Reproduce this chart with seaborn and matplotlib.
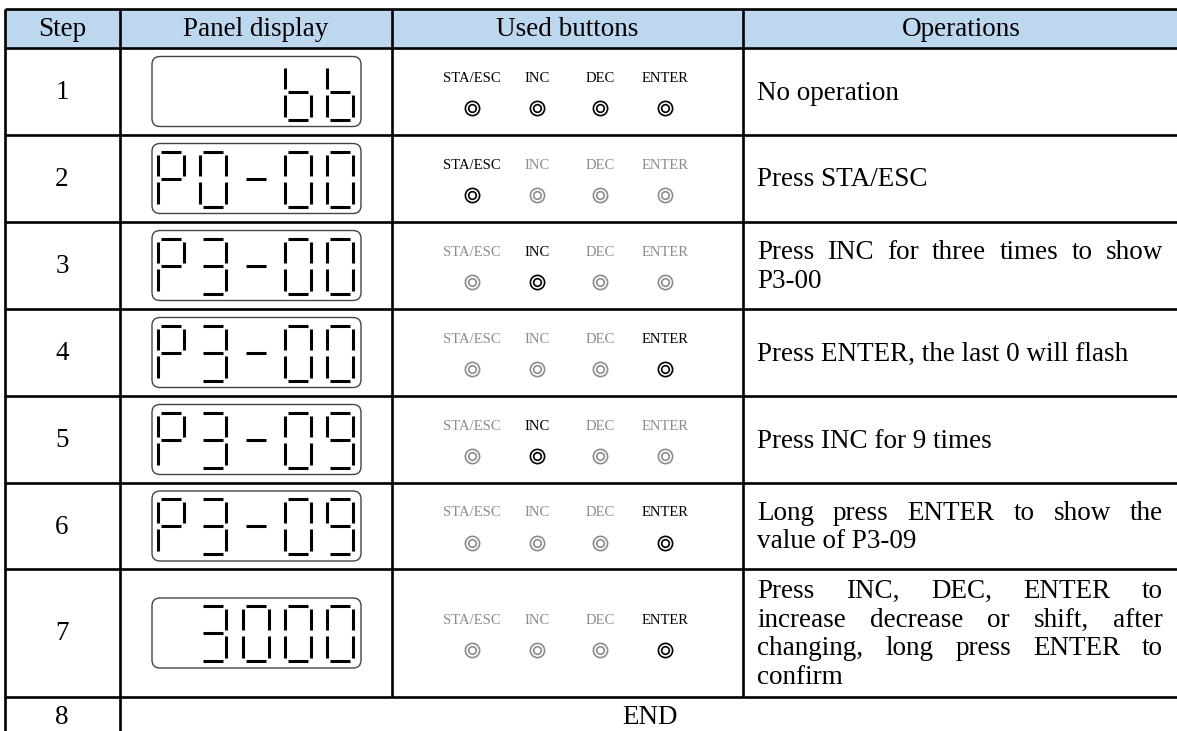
import numpy as np
import pandas as pd
import matplotlib
matplotlib.use("Agg")
import matplotlib.pyplot as plt
from matplotlib.patches import FancyBboxPatch, Rectangle
import seaborn as sns

# ---- table content ----
headers = ["Step", "Panel display", "Used buttons", "Operations"]
steps = ["1", "2", "3", "4", "5", "6", "7"]
panel_text = ["   bb", "P0-00", "P3-00", "P3-00", "P3-09", "P3-09", " 3000"]
button_names = ["STA/ESC", "INC", "DEC", "ENTER"]
active_button = ["ALL", "STA/ESC", "INC", "ENTER", "INC", "ENTER", "ENTER"]
operations = [
    ["No operation"],
    ["Press STA/ESC"],
    ["Press INC for three times to show", "P3-00"],
    ["Press ENTER, the last 0 will flash"],
    ["Press INC for 9 times"],
    ["Long press ENTER to show the", "value of P3-09"],
    ["Press INC, DEC, ENTER to", "increase decrease or shift, after",
     "changing, long press ENTER to", "confirm"],
]
last_step = "8"
last_text = "END"

# ---- layout (pixel units) ----
W, H = 1177, 731
col_x = [5, 120, 392, 743, 1180]
row_y = [9, 48, 135, 222, 309, 396, 483, 569, 697, 745]
btn_x = [472, 537, 600, 665]
digit_x0, digit_pitch, digit_w = 158, 42.3, 26
box_x0, box_x1, box_h = 152, 361, 70
on_col, off_col = "#000000", "#8c8c8c"
FS = 19.5

sns.set_theme(style="white")
plt.rcParams["font.family"] = ["Liberation Serif", "DejaVu Serif"]
plt.rcParams["text.color"] = "black"

fig = plt.figure(figsize=(W / 100, H / 100), dpi=100)
ax = fig.add_axes([0, 0, 1, 1])
ax.set_xlim(0, W)
ax.set_ylim(H, 0)
ax.axis("off")

# header fill + grid
ax.add_patch(Rectangle((col_x[0], row_y[0]), col_x[-1] - col_x[0], row_y[1] - row_y[0],
                       facecolor="#BDD7EE", edgecolor="none", zorder=0))
lw = 1.9
for y in row_y[:-1]:
    ax.plot([col_x[0], col_x[-1]], [y, y], color="black", lw=lw, solid_capstyle="butt")
for x in [col_x[0], col_x[1]]:
    ax.plot([x, x], [row_y[0], row_y[-1]], color="black", lw=lw, solid_capstyle="butt")
for x in [col_x[2], col_x[3]]:
    ax.plot([x, x], [row_y[0], row_y[-2]], color="black", lw=lw, solid_capstyle="butt")

for i, h in enumerate(headers):
    cx = (col_x[i] + col_x[i + 1]) / 2
    ax.text(cx, (row_y[0] + row_y[1]) / 2 + 1, h, fontsize=FS, ha="center", va="center")

# seven segment digits
SEGS = {"0": "abcdef", "3": "abcdg", "9": "abcdfg", "P": "abefg",
        "b": "cdefg", "-": "g", " ": ""}


def draw_digit(ch, x0, yt, ym, yb):
    g = 3
    w = digit_w
    coords = {
        "a": ([x0 + g, x0 + w - g], [yt, yt]),
        "b": ([x0 + w, x0 + w], [yt + g, ym - g]),
        "c": ([x0 + w, x0 + w], [ym + g, yb - g]),
        "d": ([x0 + g, x0 + w - g], [yb, yb]),
        "e": ([x0, x0], [ym + g, yb - g]),
        "f": ([x0, x0], [yt + g, ym - g]),
        "g": ([x0 + g, x0 + w - g], [ym, ym]),
    }
    for s in SEGS[ch]:
        xs, ys = coords[s]
        ax.plot(xs, ys, color="black", lw=2.2, solid_capstyle="butt")


rows = []
for i in range(len(steps)):
    top, bot = row_y[i + 1], row_y[i + 2]
    cy = (top + bot) / 2
    ax.text(62, cy + 1, steps[i], fontsize=FS, ha="center", va="center")

    # panel display
    ax.add_patch(FancyBboxPatch((box_x0, cy - box_h / 2), box_x1 - box_x0, box_h,
                                boxstyle="round,pad=0,rounding_size=8",
                                facecolor="white", edgecolor="#444444", lw=1.0))
    for k, ch in enumerate(panel_text[i]):
        draw_digit(ch, digit_x0 + k * digit_pitch, cy - 27, cy, cy + 28)

    # buttons
    for j, name in enumerate(button_names):
        on = active_button[i] in ("ALL", name)
        rows.append({"x": btn_x[j], "y": cy + 16.5, "on": on})
        ax.text(btn_x[j], cy - 9.5, name, fontsize=10.5, ha="center", va="baseline",
                color=on_col if on else off_col)

    # operations text, justified like the original document
    lines = operations[i]
    n = len(lines)
    lead = 28.5
    for k, line in enumerate(lines):
        base = cy + 8 + (k - (n - 1) / 2) * lead
        words = line.split(" ")
        if k == n - 1 or len(words) == 1:
            ax.text(757, base, line, fontsize=FS, ha="left", va="baseline")
            continue
        ts = [ax.text(0, base, w_, fontsize=FS, ha="left", va="baseline") for w_ in words]
        r = fig.canvas.get_renderer()
        widths = [t.get_window_extent(r).width for t in ts]
        gap = (1163 - 757 - sum(widths)) / (len(words) - 1)
        x = 757
        for t, wd in zip(ts, widths):
            t.set_x(x)
            x += wd + gap

btn = pd.DataFrame(rows)
for state, col in [(True, on_col), (False, off_col)]:
    sub = btn[btn["on"] == state]
    sns.scatterplot(data=sub, x="x", y="y", s=105, color=col, facecolor="white",
                    edgecolor=col, linewidth=1.2, ax=ax, legend=False, zorder=3)
    sns.scatterplot(data=sub, x="x", y="y", s=30, color=col, facecolor="white",
                    edgecolor=col, linewidth=1.2, ax=ax, legend=False, zorder=4)

ax.set_xlim(0, W)
ax.set_ylim(H, 0)
ax.set_xlabel("")
ax.set_ylabel("")

# last row
cy8 = (row_y[8] + H) / 2 + 3
ax.text(62, cy8, last_step, fontsize=FS, ha="center", va="center")
ax.text((col_x[1] + col_x[-1]) / 2, cy8, last_text, fontsize=FS, ha="center", va="center")

fig.savefig("out.png", dpi=100)
